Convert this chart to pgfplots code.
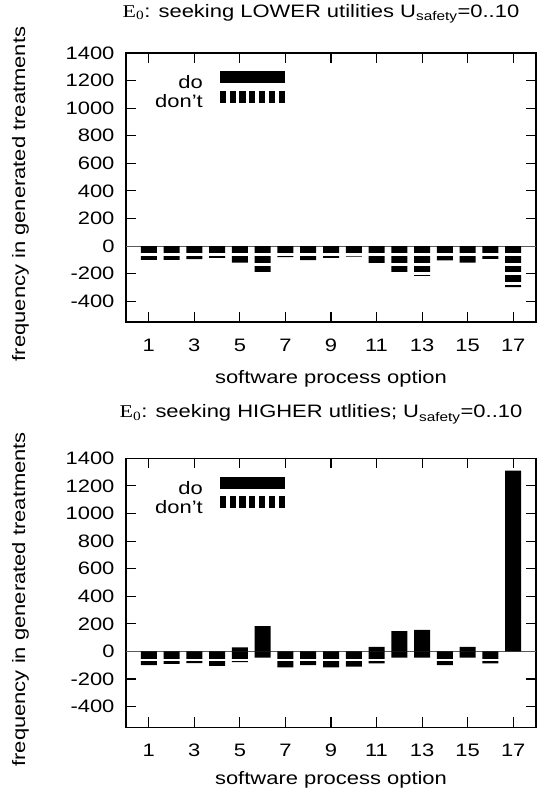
\documentclass[border=0pt]{standalone}
\usepackage{fontspec}
\setmainfont{Liberation Sans}[FakeStretch=1.22]
\newfontfamily\serifE{Liberation Serif}[FakeStretch=1.22]
\usepackage{pgfplots}
\usepackage{pgfplotstable}
\pgfplotsset{compat=1.18}
\newcommand\fs{\fontsize{18pt}{21pt}\selectfont}

\pgfplotstableread{
x do dont
1 0 -100
2 0 -100
3 0 -95
4 0 -85
5 0 -120
6 0 -188
7 0 -80
8 0 -102
9 0 -85
10 0 -76
11 0 -142
12 0 -188
13 0 -215
14 0 -104
15 0 -120
16 0 -92
17 0 -298
}\lowtab

\pgfplotstableread{
x do dont
1 0 -100
2 0 -91
3 0 -85
4 0 -105
5 30 -78
6 184 -45
7 0 -115
8 0 -100
9 0 -115
10 0 -110
11 33 -86
12 148 -45
13 156 -45
14 0 -100
15 33 -45
16 0 -86
17 1310 0
}\hightab

\pgfplotsset{
  myax/.style={
    scale only axis, width=410pt, height=269pt,
    xmin=0, xmax=18, ymin=-550, ymax=1400,
    xtick={1,3,...,17}, ytick={-400,-200,...,1400},
    tick pos=both, tick align=inside, major tick length=10pt,
    tick style={black, line width=1.1pt},
    axis line style={black, line width=1.5pt},
    /pgf/number format/assume math mode=true,
    /pgf/number format/1000 sep={},
    tick label style={font=\fs},
    yticklabel style={xshift=-8pt},
    xticklabel style={anchor=base, yshift=-29.7pt},
    title style={font=\fs, anchor=base},
    every axis y label/.style={at={(axis description cs:-0.2463,0.476)}, rotate=90, anchor=base, font=\fs},
    legend plot pos=right,
    legend style={draw=none, fill=none, font=\fs, inner sep=0pt, row sep=-1.5pt,
      cells={anchor=east}, at={(axis description cs:0.3878,0.857)}, anchor=east},
    ylabel={frequency in generated treatments},
    xlabel={software process option},
  },
  dobar/.style={ybar, bar width=16pt, bar shift=0pt, fill=black, draw=none,
    legend image code/.code={\path (0pt,0pt); \fill[black] (15pt,-0.5pt) rectangle (80pt,11.5pt);}},
  dontbar/.style={ybar, bar width=16pt, bar shift=0pt, fill=black, draw=none,
    legend image code/.code={\path (0pt,0pt);
      \foreach \k in {0,...,6} {\fill[black] ({15pt+\k*9.8pt},-0.5pt) rectangle +(6.2pt,12pt);}}},
  gap/.style={white, line width=2.9pt, forget plot},
  zeroline/.style={black!65, line width=1pt, forget plot},
}

\begin{document}
\begin{tikzpicture}
\useasboundingbox (0,0) rectangle (541pt,795pt);
\begin{axis}[myax, at={(126pt,473pt)}, anchor=south west,
  title={{\serifE E\textsubscript{0}}: seeking LOWER utilities U\textsubscript{safety}=0..10},
  title style={at={(axis description cs:0.4756,1.1104)}},
  every axis x label/.style={at={(axis description cs:0.5,-0.2305)}, anchor=base, font=\fs},
]
\addplot[zeroline] coordinates {(0,0) (18,0)};
\addplot[dobar] table[x=x, y=do] {\lowtab};
\addplot[dontbar] table[x=x, y=dont] {\lowtab};
\addplot[gap] coordinates {(0.55,-62) (17.45,-62)};
\addplot[gap] coordinates {(0.55,-130) (17.45,-130)};
\addplot[gap] coordinates {(0.55,-200) (17.45,-200)};
\addplot[gap] coordinates {(0.55,-270) (17.45,-270)};
\legend{do, don't}
\end{axis}
\begin{axis}[myax, at={(126pt,67.7pt)}, anchor=south west,
  title={{\serifE E\textsubscript{0}}: seeking HIGHER utlities; U\textsubscript{safety}=0..10},
  title style={at={(axis description cs:0.4756,1.1275)}},
  every axis x label/.style={at={(axis description cs:0.5,-0.211)}, anchor=base, font=\fs},
]
\addplot[zeroline] coordinates {(0,0) (18,0)};
\addplot[dobar] table[x=x, y=do] {\hightab};
\addplot[dontbar] table[x=x, y=dont] {\hightab};
\addplot[gap] coordinates {(0.55,-62) (17.45,-62)};
\addplot[gap] coordinates {(0.55,-130) (17.45,-130)};
\addplot[gap] coordinates {(0.55,-200) (17.45,-200)};
\addplot[gap] coordinates {(0.55,-270) (17.45,-270)};
\legend{do, don't}
\end{axis}
\end{tikzpicture}
\end{document}
